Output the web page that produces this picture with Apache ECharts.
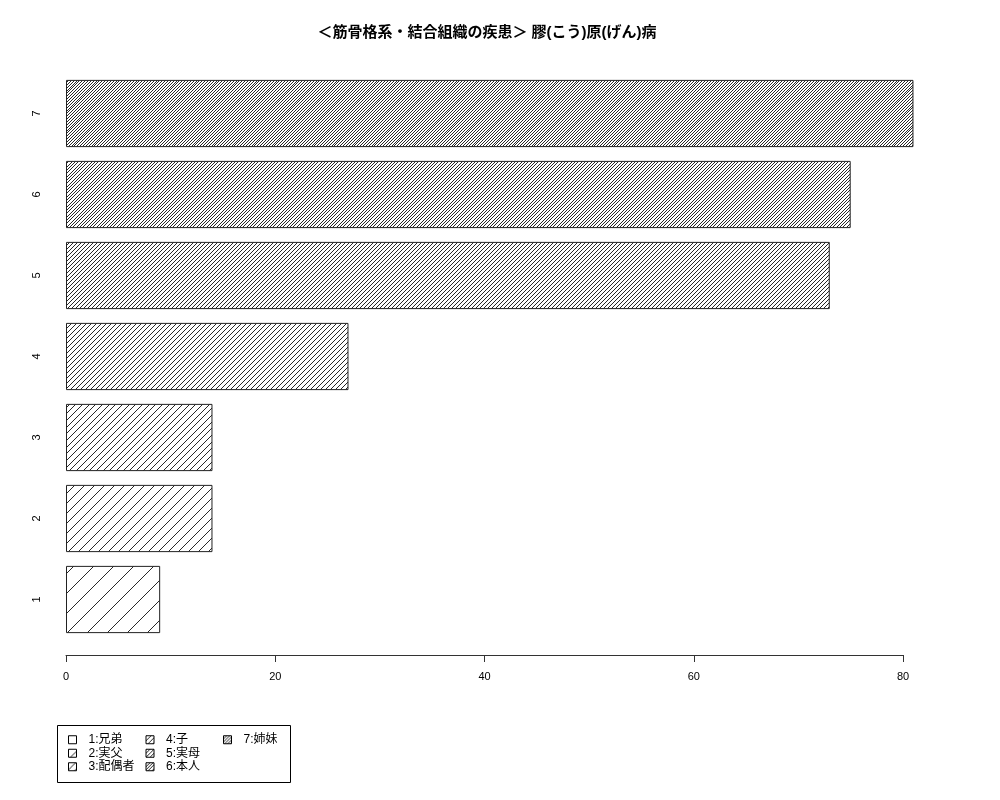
<!DOCTYPE html>
<html>
<head>
<meta charset="utf-8">
<script src="https://cdn.jsdelivr.net/npm/echarts/dist/echarts.min.js"></script>
<style>
  html, body { margin: 0; padding: 0; background: #fff; }
  #main { width: 1000px; height: 800px; }
</style>
</head>
<body>
<div id="main"></div>
<script>
// カテゴリと値
var categories = ['1', '2', '3', '4', '5', '6', '7'];
var values = [9, 14, 14, 27, 73, 75, 81];
var legendNames = ['1:兄弟', '2:実父', '3:配偶者', '4:子', '5:実母', '6:本人', '7:姉妹'];
var xTicks = [0, 20, 40, 60, 80];

var FONT = "'Liberation Sans', 'Noto Sans CJK JP', sans-serif";

// 斜線ハッチ（20px あたり k 本、1px のドットで描く）
function hatch(k) {
  var T = 20;
  var c = document.createElement('canvas');
  c.width = T; c.height = T;
  var ctx = c.getContext('2d');
  var img = ctx.createImageData(T, T);
  var step = T / k;
  for (var y = 0; y < T; y++) {
    for (var x = 0; x < T; x++) {
      var s = x + y;
      var on = Math.floor((s + 1) / step) !== Math.floor(s / step);
      var p = (y * T + x) * 4;
      var v = on ? 40 : 255;
      img.data[p] = v; img.data[p + 1] = v; img.data[p + 2] = v; img.data[p + 3] = 255;
    }
  }
  ctx.putImageData(img, 0, 0);
  return { image: c, repeat: 'repeat' };
}

var series = legendNames.map(function (name, i) {
  var data = categories.map(function (c, j) { return j === i ? values[j] : null; });
  return {
    name: name,
    type: 'bar',
    stack: 'all',
    clip: false,
    barCategoryGap: '17%',
    data: data,
    itemStyle: {
      color: hatch(i + 1),
      borderColor: '#222',
      borderWidth: 1
    }
  };
});

var chart = echarts.init(document.getElementById('main'));
chart.setOption({
  backgroundColor: '#fff',
  animation: false,
  title: {
    text: '＜筋骨格系・結合組織の疾患＞ 膠(こう)原(げん)病',
    left: 482,
    top: 20,
    textAlign: 'center',
    textStyle: { fontFamily: FONT, fontSize: 15, fontWeight: 'bold', color: '#000' }
  },
  grid: { left: 66, right: 97, top: 73, bottom: 160 },
  xAxis: {
    type: 'value',
    min: 0,
    max: 80,
    interval: 20,
    offset: 15,
    splitLine: { show: false },
    axisLine: { show: true, lineStyle: { color: '#333', width: 1 } },
    axisTick: { show: true, length: 7, lineStyle: { color: '#333' } },
    axisLabel: {
      color: '#000', fontFamily: FONT, fontSize: 11, margin: 16,
      formatter: function (v) { return xTicks.indexOf(v) >= 0 ? String(v) : ''; }
    }
  },
  yAxis: {
    type: 'category',
    data: categories,
    axisLine: { show: false },
    axisTick: { show: false },
    axisLabel: { rotate: 90, margin: 24, color: '#000', fontFamily: FONT, fontSize: 11 }
  },
  legend: {
    orient: 'vertical',
    left: 68,
    top: 733,
    height: 44,
    icon: 'rect',
    itemWidth: 8,
    itemHeight: 8,
    itemGap: 0,
    padding: 0,
    selectedMode: false,
    data: legendNames,
    itemStyle: { borderColor: '#000', borderWidth: 1 },
    textStyle: { fontFamily: FONT, fontSize: 12, color: '#000', width: 57, height: 13.5, lineHeight: 13.5, padding: [0, 0, 0, 7] }
  },
  graphic: [{
    type: 'rect',
    shape: { x: 57.5, y: 725.5, width: 233, height: 57 },
    style: { fill: 'none', stroke: '#000', lineWidth: 1 }
  }],
  series: series
});
</script>
</body>
</html>
